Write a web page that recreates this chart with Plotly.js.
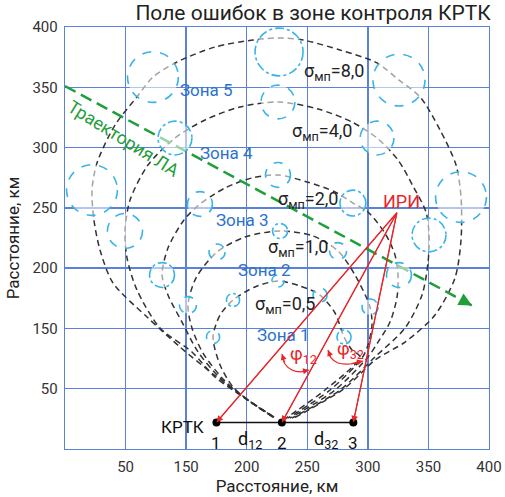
<!DOCTYPE html>
<html><head><meta charset="utf-8">
<script src="https://cdn.plot.ly/plotly-3.0.1.min.js"></script>
<style>html,body{margin:0;padding:0;background:#fff}</style>
</head><body><div id="chart" style="width:505px;height:497px"></div>
<script>
// ---- axis ticks (labels as printed in the source picture) ----
const tickVals = [100, 150, 200, 250, 300, 350, 400];
const tickText = ['50', '150', '200', '250', '300', '350', '400'];

// ---- error isolines σмп (km) ----
const s05X = [220.9,204.4,188.7,178.0,172.2,178.0,188.7,206.8,225.8,244.0,260.5,272.9,280.3,286.9,293.5,264.6,232.4];
const s05Y = [77.4,88.2,101.4,119.7,142.9,161.1,173.6,184.4,189.3,185.2,177.7,162.8,142.9,132.1,126.3,98.9,75.7];
const s1X = [221.7,201.9,181.3,163.9,154.8,151.5,158.1,175.5,198.6,227.5,254.7,275.4,289.4,301.8,303.4,300.1,295.2,268.8,234.1];
const s1Y = [76.5,89.8,107.2,129.6,150.4,169.4,191.8,213.4,225.8,230.8,226.7,214.2,194.3,167.8,152.8,136.3,125.5,98.9,75.7];
const s2X = [221.7,201.1,178.0,159.8,146.6,135.0,130.1,135.0,148.2,161.4,182.1,204.4,225.8,249.8,272.9,287.7,300.1,315.0,322.4,324.9,324.1,318.3,308.4,300.1,272.9,235.7];
const s2Y = [76.5,90.6,108.9,130.5,155.3,177.7,194.3,216.7,239.9,253.2,266.5,274.8,277.3,271.5,263.2,254.0,246.6,227.5,210.9,194.3,176.1,155.3,138.7,126.3,98.9,75.7];
const s4X = [222.5,199.4,173.8,154.8,128.4,109.4,101.2,99.5,103.7,118.5,140.8,165.6,194.5,225.8,258.9,286.9,307.6,324.9,338.1,348.0,350.5,349.7,344.7,330.7,305.9,277.0,237.4];
const s4Y = [76.5,91.5,109.7,130.5,150.4,181.9,208.4,230.8,256.5,285.5,307.9,322.9,333.7,337.8,332.0,321.2,307.9,289.7,266.5,246.6,227.5,205.1,177.7,150.4,126.3,98.9,75.7];
const s8X = [222.5,198.6,172.2,144.9,117.7,89.6,78.9,73.9,72.3,76.4,91.3,109.4,122.6,142.5,173.8,205.2,225.8,246.5,277.0,307.6,325.7,343.1,359.6,372.8,376.9,376.9,371.9,355.4,330.7,305.9,281.1,239.0];
const s8Y = [76.5,92.3,112.2,134.6,159.5,187.7,215.1,239.9,264.8,287.2,318.7,342.0,358.5,371.0,383.4,389.2,390.9,389.2,380.9,370.2,356.0,342.0,314.6,285.5,259.0,223.3,191.8,161.1,138.7,123.8,100.6,75.7];

// ---- error ellipses (circles): centres and radii, km ----
const circX = [172.2,188.7,225.8,260.5,280.3, 151.5,175.5,227.5,275.4,301.8, 130.1,161.4,225.8,287.7,325.7, 99.5,140.8,225.8,307.6,350.5, 72.3,122.6,226.7,325.7,376.9];
const circY = [142.9,173.6,189.3,177.7,142.9, 169.4,213.4,230.8,214.2,167.8, 194.3,253.2,277.3,254.0,194.3, 230.8,307.9,337.8,307.9,227.5, 264.8,358.5,379.3,356.0,259.0];
const circR = [5.4,5.4,5.0,5.8,5.8, 7.0,6.6,6.2,7.0,6.6, 10.3,10.3,10.3,10.7,10.3, 14.5,14.0,14.0,14.0,14.0, 21.0,21.0,19.8,21.5,21.0];

// ---- sigma labels ----
const sigText = ['σ<sub>мп</sub>=0,5','σ<sub>мп</sub>=1,0','σ<sub>мп</sub>=2,0','σ<sub>мп</sub>=4,0','σ<sub>мп</sub>=8,0'];
const sigX = [231.6,242.3,250.6,262.2,272.1];
const sigY = [169.4,217.0,256.5,312.9,362.7];

// ---- zones ----
const zoneText = ['Зона 1','Зона 2','Зона 3','Зона 4','Зона 5'];
const zoneX = [230.0,214.3,196.9,183.7,167.2];
const zoneY = [144.6,198.8,239.9,295.5,347.8];

// ---- stations, emitter, trajectory ----
const baseX = [175, 229, 288];
const baseY = [72, 72, 72];
const baseLabels = ['1', '2', '3'];
const iriX = 324, iriY = 246;
const trajX = [50, 386];
const trajY = [351, 169];
const phi12X = [229.1,231.6,237.4,244.0,251.4];
const phi12Y = [128.8,120.5,115.5,113.9,115.5];
const phi32X = [267.1,269.6,275.4,285.3,296.0];
const phi32Y = [132.1,125.5,121.3,120.5,123.0];

const FONT = 'Roboto, "Noto Sans", sans-serif';
const BLUE = '#5a82da';
const RED = '#e8262a';
const GREEN = '#1f9e3a';
const CIRC = '#3ab4e6';

const traces = [];
const curveStyle = {color: '#333', width: 1.5, dash: '6px,4px', shape: 'spline', smoothing: 0.8};
[[s05X,s05Y],[s1X,s1Y],[s2X,s2Y],[s4X,s4Y],[s8X,s8Y]].forEach(([x,y]) => {
  traces.push({x, y, type: 'scatter', mode: 'lines', line: curveStyle, hoverinfo: 'skip'});
});
// trajectory
traces.push({x: trajX, y: trajY, type: 'scatter', mode: 'lines', line: {color: GREEN, width: 2.5, dash: '12px,6px'}, hoverinfo: 'skip'});
// baseline
traces.push({x: [baseX[0], baseX[2]], y: [baseY[0], baseY[2]], type: 'scatter', mode: 'lines', line: {color: '#111', width: 1.5}, hoverinfo: 'skip'});
// red bearing lines
baseX.forEach((bx, i) => {
  traces.push({x: [iriX, bx], y: [iriY, baseY[i]], type: 'scatter', mode: 'lines', line: {color: RED, width: 1.2}, hoverinfo: 'skip'});
});
// angle arcs
traces.push({x: phi12X, y: phi12Y, type: 'scatter', mode: 'lines', line: {color: RED, width: 1.2, shape: 'spline'}, hoverinfo: 'skip'});
traces.push({x: phi32X, y: phi32Y, type: 'scatter', mode: 'lines', line: {color: RED, width: 1.2, shape: 'spline'}, hoverinfo: 'skip'});
// station dots
traces.push({x: baseX, y: baseY, type: 'scatter', mode: 'markers', marker: {color: '#000', size: 8}, hoverinfo: 'skip'});

const shapes = circX.map((cx, i) => ({
  type: 'circle', xref: 'x', yref: 'y', layer: 'above',
  x0: cx - circR[i], x1: cx + circR[i], y0: circY[i] - circR[i], y1: circY[i] + circR[i],
  line: {color: CIRC, width: 1.6, dash: (i % 3 === 1) ? 'dashdot' : 'dash'},
  fillcolor: 'rgba(255,255,255,0.55)'
}));

const ann = [];
const txt = (x, y, text, size, color, extra) => Object.assign({x, y, xref: 'x', yref: 'y', text, showarrow: false, font: {family: FONT, size, color}}, extra || {});
sigText.forEach((t, i) => ann.push(txt(sigX[i], sigY[i], t, 18, '#222')));
zoneText.forEach((t, i) => ann.push(txt(zoneX[i], zoneY[i], t, 17, '#2c72cc')));
baseLabels.forEach((t, i) => ann.push(txt(baseX[i], 55, t, 17, '#111')));
ann.push(txt(147.4, 68.2, 'КРТК', 17, '#111'));
ann.push(txt(202.7, 57.5, 'd<sub>12</sub>', 18, '#111'));
ann.push(txt(265.5, 57.5, 'd<sub>32</sub>', 18, '#111'));
ann.push(txt(327.4, 254.9, 'ИРИ', 18, RED));
ann.push(txt(246.5, 128.0, 'φ<sub>12</sub>', 18, RED));
ann.push(txt(285.3, 132.1, 'φ<sub>32</sub>', 18, RED));
ann.push(txt(98.5, 307.5, 'Траектория ЛА', 18, GREEN, {textangle: 32}));
// arrowheads
const arrow = (x, y, ax, ay, color, w, size) => ({x, y, ax, ay, xref: 'x', yref: 'y', axref: 'x', ayref: 'y', text: '', showarrow: true, arrowhead: 2, arrowsize: size, arrowwidth: w, arrowcolor: color});
baseX.forEach((bx, i) => ann.push(arrow(bx, baseY[i], iriX, iriY, RED, 1.2, 1.1)));
ann.push(arrow(phi12X[0], phi12Y[0], phi12X[1], phi12Y[1], RED, 1.2, 1));
ann.push(arrow(phi12X[4], phi12Y[4], phi12X[3], phi12Y[3], RED, 1.2, 1));
ann.push(arrow(phi32X[0], phi32Y[0], phi32X[1], phi32Y[1], RED, 1.2, 1));
ann.push(arrow(phi32X[4], phi32Y[4], phi32X[3], phi32Y[3], RED, 1.2, 1));
ann.push(arrow(trajX[1], trajY[1], trajX[1] - 8, trajY[1] + 4.3, GREEN, 2.2, 1.2));

const axisBase = {
  range: [50, 400], tickvals: tickVals, ticktext: tickText, ticks: '',
  showgrid: true, gridcolor: BLUE, gridwidth: 1.3, zeroline: false,
  showline: true, linecolor: BLUE, linewidth: 1.3, mirror: true,
  tickfont: {family: FONT, size: 15, color: '#333'}, fixedrange: true
};
const layout = {
  width: 505, height: 497,
  margin: {l: 65, r: 16, t: 27, b: 48},
  paper_bgcolor: '#fff', plot_bgcolor: '#fff',
  showlegend: false,
  title: {text: 'Поле ошибок в зоне контроля КРТК', x: 0.62, xanchor: 'center', y: 0.974, yanchor: 'middle', font: {family: FONT, size: 21, color: '#222'}},
  xaxis: Object.assign({}, axisBase, {ticklabelstandoff: 4, title: {text: 'Расстояние, км', standoff: 0, font: {family: FONT, size: 17, color: '#222'}}}),
  yaxis: Object.assign({}, axisBase, {ticklabelstandoff: 3, title: {text: 'Расстояние, км', standoff: 8, font: {family: FONT, size: 17, color: '#222'}}}),
  shapes, annotations: ann
};
Plotly.newPlot('chart', traces, layout, {displayModeBar: false, staticPlot: true});
</script></body></html>
